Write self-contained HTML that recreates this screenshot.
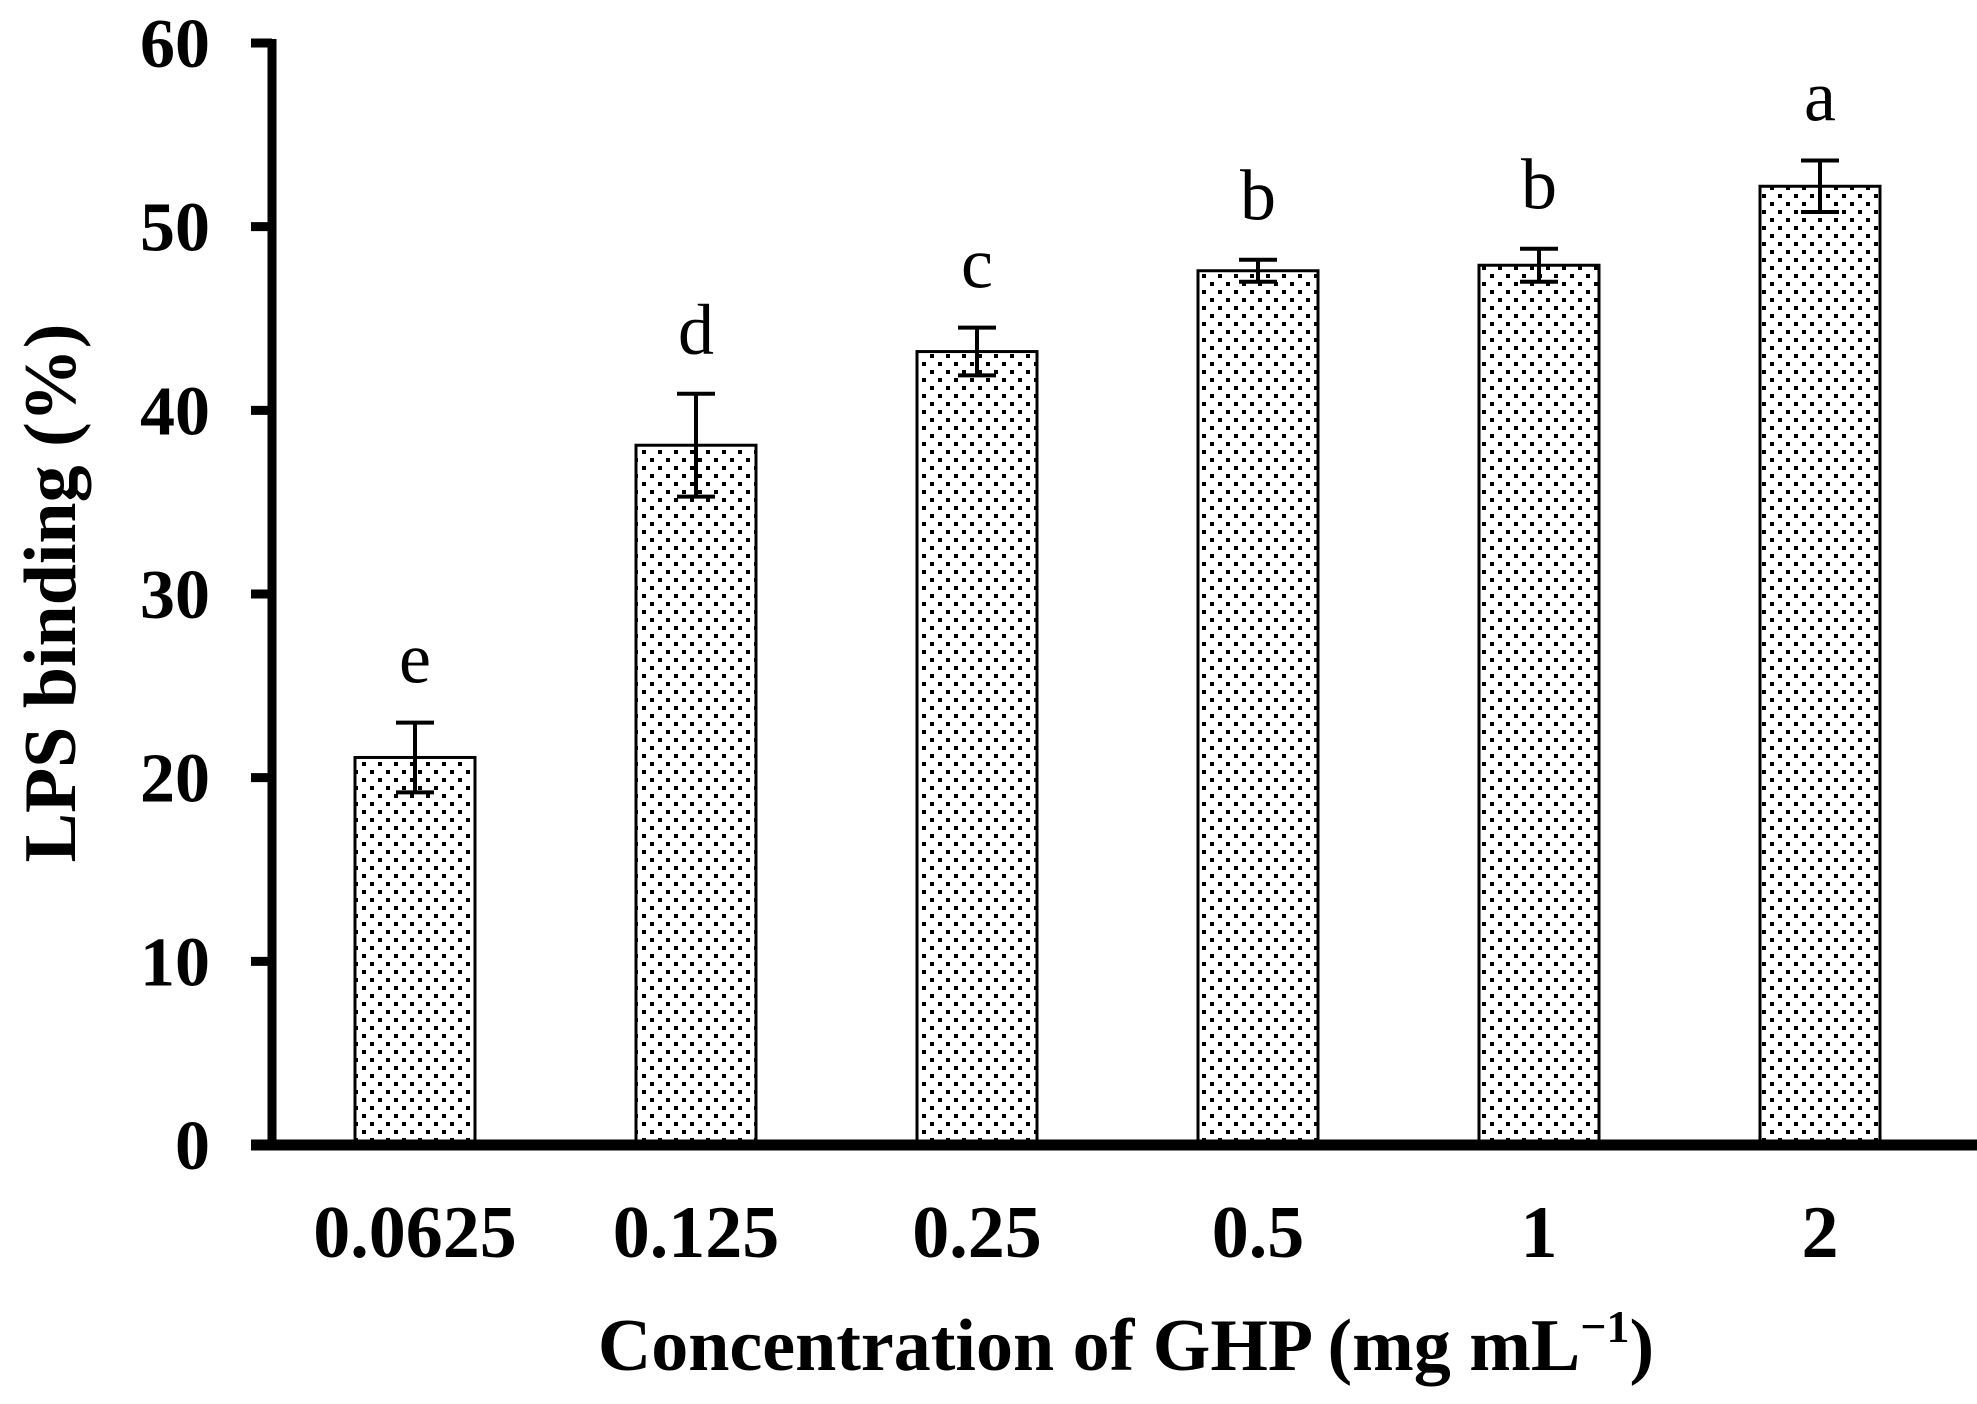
<!DOCTYPE html>
<html><head><meta charset="utf-8"><style>
html,body{margin:0;padding:0;background:#fff;}
svg{display:block;}
text{font-family:"Liberation Serif","Times New Roman",serif;fill:#000;}
</style></head><body>
<svg id="chart" width="1977" height="1404" viewBox="0 0 1977 1404">
<defs>
<pattern id="dots" width="16" height="16" patternUnits="userSpaceOnUse">
<rect x="2" y="2" width="4" height="4" fill="#000"/>
<rect x="10" y="10" width="4" height="4" fill="#000"/>
</pattern>
</defs>
<g id="bars"></g>
<g id="yaxis"></g>
<g id="xaxis"></g>
<text x="0" y="0" transform="translate(75,593) rotate(-90)" text-anchor="middle" font-size="74" font-weight="bold">LPS binding (%)</text>
<text x="1126" y="1370" text-anchor="middle" font-size="74" font-weight="bold">Concentration of GHP (mg mL<tspan dy="-28" font-size="46">−1</tspan><tspan dy="28">)</tspan></text>
</svg>
<script>
const categories = ["0.0625","0.125","0.25","0.5","1","2"];
const values = [21.1, 38.1, 43.2, 47.6, 47.9, 52.2];
const errors = [1.9, 2.8, 1.3, 0.6, 0.9, 1.4];
const letters = ["e","d","c","b","b","a"];
const yTicks = [0,10,20,30,40,50,60];

const NS = "http://www.w3.org/2000/svg";
const y0 = 1145, yTop = 43, yMax = 60;
const x0 = 272, firstCenter = 415, step = 281, barW = 120;
function yScale(v){ return y0 - (v / yMax) * (y0 - yTop); }
function xCenter(i){ return firstCenter + step * i; }
function mk(tag, attrs, parent){
  const e = document.createElementNS(NS, tag);
  for (const k in attrs) e.setAttribute(k, attrs[k]);
  parent.appendChild(e);
  return e;
}
const bars = document.getElementById('bars');
const yaxis = document.getElementById('yaxis');
const xaxis = document.getElementById('xaxis');

values.forEach((v, i) => {
  const cx = xCenter(i);
  const r = mk('rect', {x: cx - barW/2, y: yScale(v), width: barW, height: y0 - yScale(v), fill: 'url(#dots)', stroke: '#000', 'stroke-width': 3}, bars);
  
  
  const top = yScale(v + errors[i]), bot = yScale(v - errors[i]);
  const eb = mk('path', {d: `M${cx},${top}V${bot}M${cx-19},${top}H${cx+19}M${cx-19},${bot}H${cx+19}`, stroke: '#000', 'stroke-width': 4, fill: 'none'}, bars);
  
  
  const t = mk('text', {x: cx, y: top - 40, 'text-anchor': 'middle', 'font-size': 72}, bars);
  t.textContent = letters[i];
  
  
  const xl = mk('text', {x: cx, y: 1257, 'text-anchor': 'middle', 'font-size': 74, 'font-weight': 'bold'}, xaxis);
  xl.textContent = categories[i];
  
  
});

const yl = mk('line', {x1: x0, y1: yTop - 4, x2: x0, y2: y0, stroke: '#000', 'stroke-width': 9}, yaxis);


yTicks.forEach(t => {
  const y = yScale(t);
  const tk = mk('line', {x1: 251, y1: y, x2: x0, y2: y, stroke: '#000', 'stroke-width': 9}, yaxis);
  
  
  const lb = mk('text', {x: 210, y: y + 24, 'text-anchor': 'end', 'font-size': 70, 'font-weight': 'bold'}, yaxis);
  lb.textContent = t;
  
  
});
const xl = mk('line', {x1: 251, y1: y0, x2: 1977, y2: y0, stroke: '#000', 'stroke-width': 11}, xaxis);


</script>
</body></html>
